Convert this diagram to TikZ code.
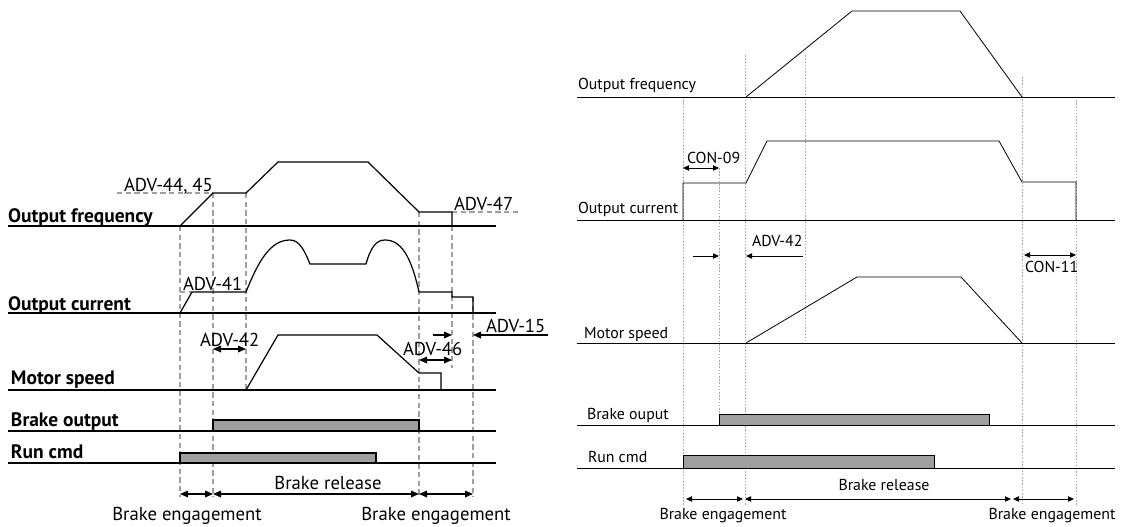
\documentclass[tikz,border=0pt]{standalone}
\usepackage{fontspec}
\setmainfont{PT Sans}
\usetikzlibrary{arrows.meta}

\begin{document}
\begin{tikzpicture}[
  x=0.75pt, y=-0.75pt,
  every node/.style={inner sep=0pt, outer sep=0pt},
  siglbl/.style={font=\fontsize{14.6}{16}\selectfont\bfseries, anchor=base west},
  bigtxt/.style={font=\fontsize{14}{16}\selectfont, anchor=base west},
  smalltxt/.style={font=\fontsize{11.9}{13}\selectfont, anchor=base west},
  axisL/.style={line width=1.5pt},
  axisR/.style={line width=0.75pt},
  sigL/.style={line width=0.9pt},
  sigR/.style={line width=0.6pt},
  guideL/.style={draw=gray!75, dash pattern=on 4pt off 2.5pt, line width=0.8pt},
  guideR/.style={draw=gray!70, dash pattern=on 1.2pt off 1.2pt, line width=0.5pt},
  barL/.style={fill=gray!75, draw=black, line width=0.9pt},
  barR/.style={fill=gray!75, draw=black, line width=0.6pt},
  dimL/.style={{Triangle[length=6pt,width=5pt]}-{Triangle[length=6pt,width=5pt]}, line width=0.9pt},
  oneL/.style={-{Triangle[length=6pt,width=5pt]}, line width=0.9pt},
  dimR/.style={{Triangle[length=4.5pt,width=4pt]}-{Triangle[length=4.5pt,width=4pt]}, line width=0.6pt},
  oneR/.style={-{Triangle[length=4.5pt,width=4pt]}, line width=0.6pt}
]
\useasboundingbox (0,0) rectangle (1128,526);

% ---------- left chart ----------
% guide lines
\draw[guideL] (180,226) -- (180,497);
\draw[guideL] (213,193) -- (213,497);
\draw[guideL] (246,193) -- (246,390);
\draw[guideL] (419,212) -- (419,497);
\draw[guideL] (452,226) -- (452,368);
\draw[guideL] (473,297) -- (473,497);
\draw[guideL] (117,193) -- (213,193);
\draw[guideL] (452,212) -- (518,212);
\draw[guideL] (180,292) -- (192,292);

% base lines
\foreach \yy in {226,313,390,431,463}
  \draw[axisL] (8,\yy) -- (496,\yy);

\node[siglbl] (freqL) at (8,222) {Output frequency};
\node[siglbl] (currL) at (8,310) {Output current};
\node[siglbl] (speedL) at (11,384) {Motor speed};
\node[siglbl] (brakeL) at (11,426) {Brake output};
\node[siglbl] (runL) at (11,458) {Run cmd};

% signals
\draw[sigL] (180,226) -- (213,193) -- (246,193) -- (278,162) -- (368,162)
  -- (419,212) -- (452,212) -- (452,226);
\draw[sigL] (180,313) -- (192,292) -- (246,292)
  .. controls (258,262) and (270,240) .. (290,240)
  .. controls (300,240) and (305,252) .. (310,264) -- (366,264)
  .. controls (371,246) and (377,240) .. (385,240)
  .. controls (401,240) and (411,256) .. (419,292)
  -- (452,292) -- (452,297) -- (473,297) -- (473,313);
\draw[sigL] (246,390) -- (278,335) -- (377,335) -- (419,373) -- (441,373) -- (441,390);
\draw[barL] (213,431) rectangle (419,420);
\draw[barL] (180,463) rectangle (376,453);

% parameter labels
\node[bigtxt] (adv4445) at (124,191) {ADV-44, 45};
\node[bigtxt] (adv41) at (183,290) {ADV-41};
\node[bigtxt] (adv47) at (454,210) {ADV-47};
\node[bigtxt] (adv42L) at (200,346) {ADV-42};
\node[bigtxt] (adv46) at (403,355) {ADV-46};
\node[bigtxt] (adv15) at (486,332) {ADV-15};
\draw[dimL] (213,349) -- (246,349);
\draw[dimL] (419,360) -- (452,360);
\draw[oneL] (433,335) -- (452,335);
\draw[oneL] (548,335) -- (473,335);

% phases
\draw[dimL] (180,494) -- (213,494);
\draw[dimL] (213,494) -- (419,494);
\draw[dimL] (419,494) -- (473,494);
\node[bigtxt, anchor=base] (engL1) at (187,520) {Brake engagement};
\node[bigtxt, anchor=base] (relL) at (328,489) {Brake release};
\node[bigtxt, anchor=base] (engL2) at (436,520) {Brake engagement};

% ---------- right chart ----------
\draw[guideR] (683,97) -- (683,505);
\draw[guideR] (719,168) -- (719,414);
\draw[guideR] (745,55) -- (745,505);
\draw[guideR] (805,55) -- (805,343);
\draw[guideR] (1022,77) -- (1022,505);
\draw[guideR] (1076,100) -- (1076,505);

\foreach \yy in {97,220,343,425,468}
  \draw[axisR] (577,\yy) -- (1115,\yy);

\node[smalltxt] (freqR) at (578,89) {Output frequency};
\node[smalltxt] (currR) at (578,213) {Output current};
\node[smalltxt] (speedR) at (584,338) {Motor speed};
\node[smalltxt] (brakeR) at (587,419) {Brake ouput};
\node[smalltxt] (runR) at (588,462) {Run cmd};

\draw[sigR] (746,97) -- (852,11) -- (960,11) -- (1022,97);
\draw[sigR] (683,220) -- (683,183) -- (746,183) -- (767,141) -- (999,141)
  -- (1022,182) -- (1076,182) -- (1076,220);
\draw[sigR] (746,343) -- (857,277) -- (961,277) -- (1022,343);
\draw[barR] (719,425) rectangle (989,414);
\draw[barR] (683,468) rectangle (934,455);

\node[smalltxt] (con09) at (687,163) {CON-09};
\node[smalltxt] (adv42R) at (752,246) {ADV-42};
\node[smalltxt] (con11) at (1025,272) {CON-11};
\draw[dimR] (683,168) -- (719,168);
\draw[oneR] (693,256) -- (719,256);
\draw[oneR] (803,256) -- (746,256);
\draw[dimR] (1024,255) -- (1076,255);

\draw[dimR] (686,499) -- (743,499);
\draw[dimR] (745,499) -- (1011,499);
\draw[dimR] (1013,499) -- (1074,499);
\node[smalltxt, anchor=base] (engR1) at (723,519) {Brake engagement};
\node[smalltxt, anchor=base] (relR) at (884,490) {Brake release};
\node[smalltxt, anchor=base] (engR2) at (1052,519) {Brake engagement};
\end{tikzpicture}
\end{document}
